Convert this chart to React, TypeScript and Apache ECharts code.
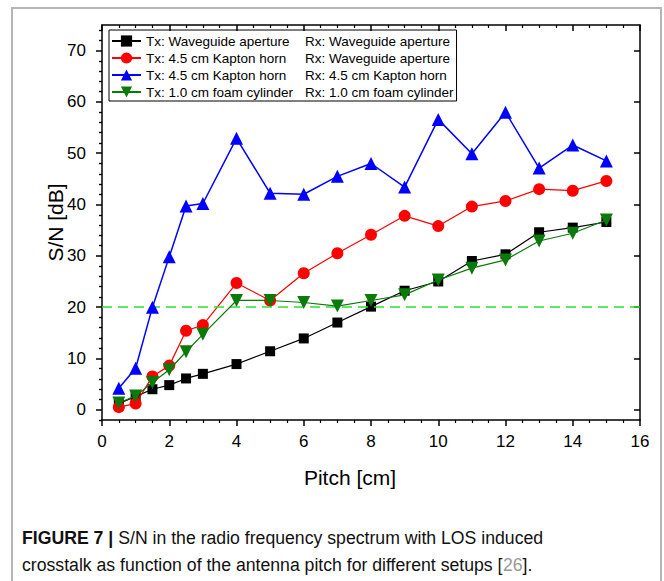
import React, { useEffect, useRef } from "react";
import * as echarts from "echarts";

const pitch = [0.5, 1, 1.5, 2, 2.5, 3, 4, 5, 6, 7, 8, 9, 10, 11, 12, 13, 14, 15];
const waveguide = [1.2, 2.6, 4.0, 4.8, 6.1, 7.0, 8.9, 11.4, 13.9, 17.0, 20.1, 23.2, 25.0, 29.0, 30.3, 34.6, 35.5, 36.6];
const kaptonWaveguide = [0.5, 1.2, 6.5, 8.6, 15.4, 16.5, 24.7, 21.3, 26.6, 30.5, 34.1, 37.8, 35.8, 39.6, 40.7, 43.0, 42.7, 44.6];
const kaptonKapton = [4.2, 8.1, 20.0, 29.8, 39.7, 40.2, 52.9, 42.2, 42.0, 45.5, 48.0, 43.4, 56.6, 49.9, 58.0, 47.1, 51.6, 48.5];
const foamFoam = [1.3, 2.7, 5.3, 7.8, 11.3, 14.7, 21.3, 21.3, 20.9, 20.2, 21.3, 22.4, 25.3, 27.6, 29.2, 32.9, 34.4, 37.0];
const txNames = ["Tx: Waveguide aperture", "Tx: 4.5 cm Kapton horn", "Tx: 4.5 cm Kapton horn", "Tx: 1.0 cm foam cylinder"];
const rxNames = ["Rx: Waveguide aperture", "Rx: Waveguide aperture", "Rx: 4.5 cm Kapton horn", "Rx: 1.0 cm foam cylinder"];
const yMajorTicks = [0, 10, 20, 30, 40, 50, 60, 70];
const yMinorTicks = [-2, 2, 4, 6, 8, 12, 14, 16, 18, 22, 24, 26, 28, 32, 34, 36, 38, 42, 44, 46, 48, 52, 54, 56, 58, 62, 64, 66, 68, 72, 74];
const threshold = 20;

const FONT = "'Liberation Sans', Arial, Helvetica, sans-serif";

export default function App() {
  const ref = useRef<HTMLDivElement>(null);
  useEffect(() => {
    const chart = echarts.init(ref.current!, null, { renderer: "svg" });
    const seriesData = [waveguide, kaptonWaveguide, kaptonKapton, foamFoam];
    const colors = ["#000000", "#ff0000", "#0000ff", "#0a7a0a"];
    const symbols = ["rect", "circle", "triangle", "path://M0,0 L10,0 L5,9 Z"];
    const sizes = [10, 12, 13, 13];
    const names = txNames.map((t, i) => t + "|" + rxNames[i]);
    const series: any[] = seriesData.map((vals, i) => ({
      type: "line",
      name: names[i],
      data: vals.map((v, j) => [pitch[j], v]),
      symbol: symbols[i],
      symbolSize: sizes[i],
      showAllSymbol: true,
      itemStyle: { color: colors[i] },
      lineStyle: { color: colors[i], width: i === 2 ? 1.5 : 1.2 },
      z: 3 + i,
      markLine: i === 0 ? {
        silent: true,
        symbol: "none",
        label: { show: false },
        lineStyle: { color: "#33dd33", type: [10, 6], width: 1.5 },
        data: [{ yAxis: threshold }],
      } : undefined,
    }));

    const axisLine = { show: true, onZero: false, lineStyle: { color: "#000", width: 1.5 } };
    const option: any = {
      animation: false,
      backgroundColor: "#fff",
      grid: { left: 102, top: 25, right: 24, bottom: 161, containLabel: false },
      legend: {
        orient: "vertical",
        left: 109,
        top: 30,
        data: names,
        borderColor: "#000",
        borderWidth: 1,
        padding: [4, 3, 2, 2],
        itemWidth: 29,
        itemHeight: 14,
        itemGap: 3,
        textStyle: {
          fontFamily: FONT,
          fontSize: 13.5,
          color: "#000",
          rich: {
            tx: { width: 159, fontSize: 13.5, fontFamily: FONT, color: "#000", lineHeight: 14 },
            rx: { fontSize: 13.5, fontFamily: FONT, color: "#000", lineHeight: 14 },
          },
        },
        formatter: (n: string) => {
          const p = n.split("|");
          return "{tx|" + p[0] + "}{rx|" + p[1] + "}";
        },
      },
      xAxis: [
        {
          type: "value", min: 0, max: 16, interval: 2, position: "bottom",
          axisLine,
          axisTick: { show: true, inside: false, length: 6, lineStyle: { color: "#000", width: 1.5 } },
          minorTick: { show: true, splitNumber: 4, length: 3, lineStyle: { color: "#000", width: 1.2 } },
          splitLine: { show: false },
          axisLabel: { fontSize: 17, color: "#000", margin: 13, fontFamily: FONT },
          name: "Pitch [cm]",
          nameLocation: "middle",
          nameGap: 47,
          nameMoveOverlap: false,
          nameTextStyle: { fontSize: 21, color: "#000", fontFamily: FONT, padding: [0, 42, 0, 0] },
        },
        {
          type: "value", min: 0, max: 16, interval: 2, position: "top",
          axisLine,
          axisTick: { show: true, inside: true, length: 6, lineStyle: { color: "#000", width: 1.5 } },
          minorTick: { show: true, splitNumber: 4, length: 3, lineStyle: { color: "#000", width: 1.2 } },
          splitLine: { show: false },
          axisLabel: { show: false },
        },
      ],
      yAxis: [
        {
          type: "value", min: -2, max: 75, position: "left",
          axisLine,
          axisTick: { show: true, inside: false, length: 6, customValues: yMajorTicks, lineStyle: { color: "#000", width: 1.5 } },
          splitLine: { show: false },
          axisLabel: { customValues: yMajorTicks, fontSize: 17, color: "#000", margin: 16, fontFamily: FONT },
          name: "S/N [dB]",
          nameLocation: "middle",
          nameGap: 36,
          nameMoveOverlap: false,
          nameTextStyle: { fontSize: 21, color: "#000", fontFamily: FONT },
        },
        {
          type: "value", min: -2, max: 75, position: "left",
          axisLine: { show: false },
          axisTick: { show: true, inside: false, length: 3, customValues: yMinorTicks, lineStyle: { color: "#000", width: 1.2 } },
          splitLine: { show: false },
          axisLabel: { show: false },
        },
        {
          type: "value", min: -2, max: 75, position: "right",
          axisLine,
          axisTick: { show: true, inside: true, length: 6, customValues: yMajorTicks, lineStyle: { color: "#000", width: 1.5 } },
          splitLine: { show: false },
          axisLabel: { show: false },
        },
        {
          type: "value", min: -2, max: 75, position: "right",
          axisLine: { show: false },
          axisTick: { show: true, inside: true, length: 3, customValues: yMinorTicks, lineStyle: { color: "#000", width: 1.2 } },
          splitLine: { show: false },
          axisLabel: { show: false },
        },
      ],
      graphic: [
        {
          type: "rect",
          shape: { x: 12, y: 8, width: 649, height: 620 },
          style: { fill: "none", stroke: "#b5b5b5", lineWidth: 2 },
          silent: true,
          z: -10,
        },
        {
          type: "text",
          x: 22,
          y: 537,
          scaleX: 0.93,
          style: {
            text: "{b|FIGURE 7 |} S/N in the radio frequency spectrum with LOS induced",
            fontFamily: FONT,
            fontSize: 19,
            fill: "#111",
            verticalAlign: "middle",
            rich: { b: { fontWeight: "bold", fontFamily: FONT, fontSize: 19, fill: "#111" } },
          },
        },
        {
          type: "text",
          x: 22,
          y: 564,
          scaleX: 0.93,
          style: {
            text: "crosstalk as function of the antenna pitch for different setups [{g|26}].",
            fontFamily: FONT,
            fontSize: 19,
            fill: "#111",
            verticalAlign: "middle",
            rich: { g: { fontFamily: FONT, fontSize: 19, fill: "#999" } },
          },
        },
      ],
      series,
    };
    chart.setOption(option);
    return () => chart.dispose();
  }, []);
  return (
    <div
      ref={ref}
      style={{ position: "fixed", left: 0, top: 0, width: 664, height: 581, background: "#fff" }}
    />
  );
}
